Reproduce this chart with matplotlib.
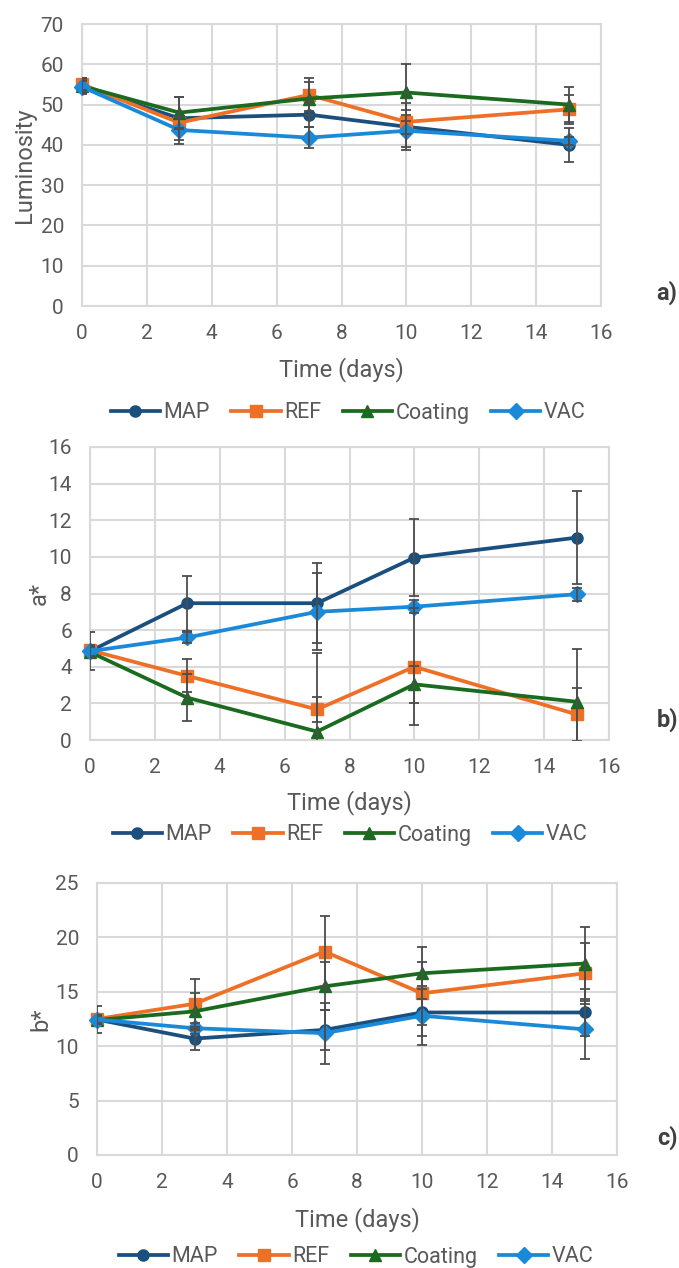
import matplotlib.pyplot as plt

plt.rcParams['font.family'] = ['Roboto', 'DejaVu Sans']

# sampling days
days = [0, 3, 7, 10, 15]
groups = ['MAP', 'REF', 'Coating', 'VAC']

# luminosity (L*) means and standard deviations
lum_map = [54.5, 46.6, 47.5, 44.5, 40.0]
lum_ref = [55.0, 45.5, 52.4, 45.7, 48.8]
lum_coat = [54.6, 48.0, 51.5, 53.0, 50.0]
lum_vac = [54.4, 43.7, 41.8, 43.5, 41.0]
lum_map_sd = [1.5, 5.3, 3.0, 5.8, 4.2]
lum_ref_sd = [1.5, 1.5, 4.1, 3.0, 3.6]
lum_coat_sd = [2.0, 3.8, 4.2, 7.0, 4.4]
lum_vac_sd = [1.5, 3.5, 2.7, 4.0, 1.0]

# a* means and standard deviations
a_map = [4.85, 7.47, 7.47, 9.96, 11.05]
a_ref = [4.9, 3.5, 1.67, 4.0, 1.4]
a_coat = [4.8, 2.31, 0.46, 3.04, 2.09]
a_vac = [4.85, 5.6, 7.0, 7.28, 7.96]
a_map_sd = [1.05, 1.5, 2.2, 2.1, 2.55]
a_ref_sd = [0.3, 0.9, 0.7, 3.2, 1.45]
a_coat_sd = [0.3, 1.27, 4.3, 1.0, 2.9]
a_vac_sd = [0.3, 0.3, 2.1, 0.35, 0.35]

# b* means and standard deviations
b_map = [12.45, 10.7, 11.5, 13.1, 13.1]
b_ref = [12.5, 13.9, 18.7, 14.86, 16.7]
b_coat = [12.4, 13.2, 15.5, 16.7, 17.6]
b_vac = [12.45, 11.65, 11.2, 12.8, 11.55]
b_map_sd = [1.25, 1.05, 1.85, 2.2, 2.2]
b_ref_sd = [0.4, 2.3, 3.3, 2.9, 2.8]
b_coat_sd = [0.4, 1.7, 2.2, 2.4, 3.4]
b_vac_sd = [0.4, 0.5, 2.8, 2.7, 2.75]

colors = {'MAP': '#1B4F7E', 'REF': '#EE7027', 'Coating': '#1A6A1F', 'VAC': '#1A8AD8'}
markers = {'MAP': 'o', 'REF': 's', 'Coating': '^', 'VAC': 'D'}
msizes = {'MAP': 8, 'REF': 8.5, 'Coating': 9, 'VAC': 8}
grid_col = '#D9D9D9'
text_col = '#595959'

panels = [
    dict(rect=[82/679, 1-306/1268, 519/679, 282/1268], ylabel='Luminosity',
         ylim=(0, 70), ystep=10, tag='a)', tag_y=293, leg_y=413, leg_x=348,
         means=[lum_map, lum_ref, lum_coat, lum_vac],
         sds=[lum_map_sd, lum_ref_sd, lum_coat_sd, lum_vac_sd],
         xlab_y=370, ylab_x=24),
    dict(rect=[90/679, 1-740/1268, 519/679, 293/1268], ylabel='a*',
         ylim=(0, 16), ystep=2, tag='b)', tag_y=720, leg_y=835, leg_x=350,
         means=[a_map, a_ref, a_coat, a_vac],
         sds=[a_map_sd, a_ref_sd, a_coat_sd, a_vac_sd],
         xlab_y=803, ylab_x=39),
    dict(rect=[97/679, 1-1155/1268, 520/679, 272/1268], ylabel='b*',
         ylim=(0, 25), ystep=5, tag='c)', tag_y=1138, leg_y=1257, leg_x=356,
         means=[b_map, b_ref, b_coat, b_vac],
         sds=[b_map_sd, b_ref_sd, b_coat_sd, b_vac_sd],
         xlab_y=1220, ylab_x=41),
]

fig = plt.figure(figsize=(6.79, 12.68), dpi=100)

for p in panels:
    ax = fig.add_axes(p['rect'])
    for name, m, sd in zip(groups, p['means'], p['sds']):
        ax.plot(days, m, color=colors[name], marker=markers[name],
                markersize=msizes[name], linewidth=2.7, label=name,
                clip_on=False, zorder=3)
        ax.errorbar(days, m, yerr=sd, fmt='none', ecolor='#4D4D4D',
                    elinewidth=1.3, capsize=3.4, capthick=1.3, zorder=4)

    ax.set_xlim(0, 16)
    ax.set_ylim(*p['ylim'])
    ax.set_xticks(range(0, 17, 2))
    ax.set_yticks(range(p['ylim'][0], p['ylim'][1] + 1, p['ystep']))
    ax.grid(True, color=grid_col, linewidth=1.5, zorder=0)
    ax.set_axisbelow(True)
    for s in ax.spines.values():
        s.set_color(grid_col)
        s.set_linewidth(1.5)
    ax.tick_params(length=0, labelsize=15, labelcolor=text_col, pad=13)

    # axis titles placed in figure pixels
    x0, y0, w, h = p['rect']
    fig.text(x0 + w / 2, 1 - p['xlab_y'] / 1268, 'Time (days)', ha='center',
             va='center', fontsize=17, color=text_col)
    fig.text(p['ylab_x'] / 679, y0 + h / 2, p['ylabel'], ha='center',
             va='center', rotation=90, fontsize=17, color=text_col)
    fig.text(667 / 679, 1 - p['tag_y'] / 1268, p['tag'], ha='center',
             va='center', fontsize=17, fontweight='bold', color='#404040')

    ax.legend(loc='center', bbox_to_anchor=(p['leg_x'] / 679, 1 - p['leg_y'] / 1268),
              bbox_transform=fig.transFigure, ncol=4, frameon=False,
              fontsize=15.5, handlelength=2.3, handletextpad=0.15,
              columnspacing=1.0, labelcolor=text_col, borderaxespad=0)

fig.savefig('out.png', dpi=100)
